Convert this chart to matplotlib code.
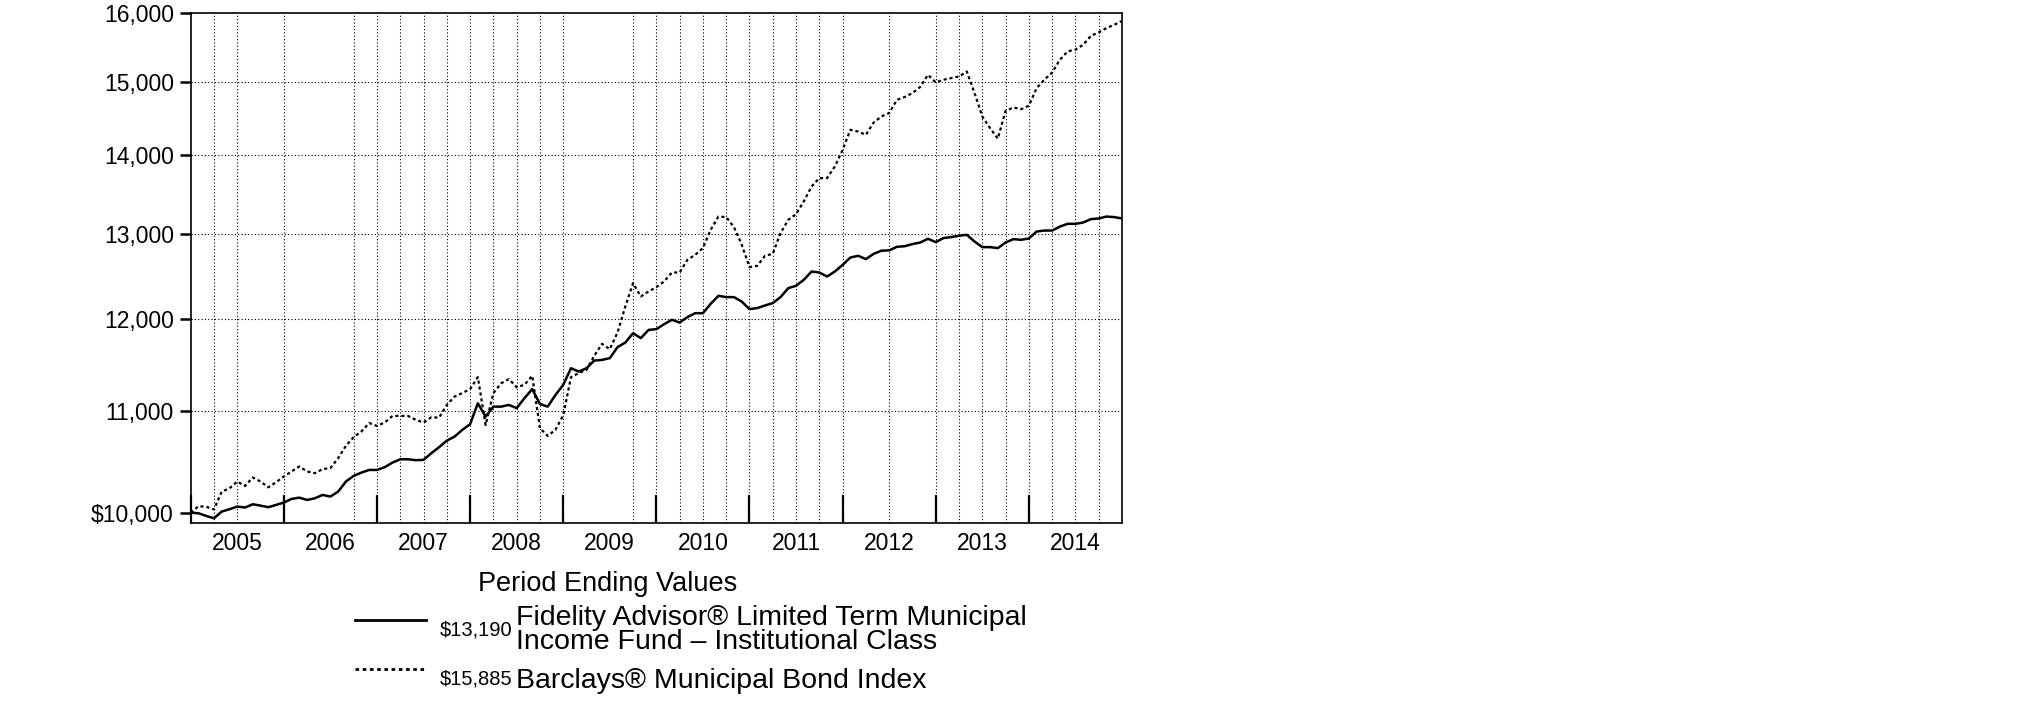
import numpy as np
import matplotlib.pyplot as plt
from matplotlib.lines import Line2D
from matplotlib.ticker import FixedLocator, FixedFormatter, NullLocator

# monthly values, Dec 2004 .. Dec 2014 (hypothetical $10,000 investment)
fund = [10000, 9994, 9969, 9947, 10010, 10032, 10057, 10048, 10079, 10066, 10051, 10073,
        10095, 10130, 10142, 10120, 10136, 10168, 10152, 10200, 10297, 10352, 10384, 10410,
        10410, 10437, 10482, 10515, 10515, 10506, 10509, 10575, 10635, 10701, 10742, 10810,
        10868, 11084, 10946, 11049, 11049, 11067, 11033, 11137, 11233, 11077, 11049, 11171,
        11278, 11456, 11420, 11456, 11539, 11546, 11565, 11686, 11736, 11840, 11785, 11877,
        11885, 11941, 11990, 11959, 12020, 12065, 12065, 12172, 12264, 12249, 12249, 12198,
        12111, 12123, 12153, 12180, 12249, 12353, 12380, 12450, 12548, 12536, 12489, 12548,
        12626, 12714, 12735, 12695, 12758, 12796, 12800, 12843, 12850, 12876, 12895, 12940,
        12900, 12949, 12961, 12977, 12989, 12907, 12839, 12839, 12827, 12895, 12936, 12928,
        12944, 13029, 13041, 13041, 13090, 13124, 13124, 13140, 13182, 13190, 13214, 13207,
        13190]
index = [10000, 10060, 10055, 10030, 10200, 10231, 10297, 10254, 10336, 10297, 10241, 10290,
         10346, 10395, 10444, 10395, 10378, 10418, 10428, 10526, 10649, 10737, 10794, 10880,
         10850, 10885, 10953, 10953, 10953, 10913, 10885, 10939, 10935, 11067, 11154, 11191,
         11233, 11360, 10860, 11191, 11295, 11339, 11253, 11278, 11375, 10827, 10749, 10810,
         10960, 11360, 11403, 11438, 11590, 11722, 11663, 11847, 12141, 12411, 12256, 12314,
         12365, 12430, 12536, 12536, 12686, 12746, 12827, 13050, 13214, 13207, 13083, 12870,
         12600, 12615, 12735, 12758, 13010, 13173, 13244, 13404, 13593, 13701, 13701, 13852,
         14070, 14338, 14315, 14270, 14437, 14519, 14566, 14749, 14788, 14843, 14929, 15100,
         14992, 15030, 15054, 15076, 15147, 14843, 14519, 14361, 14220, 14596, 14643, 14619,
         14667, 14913, 15030, 15133, 15316, 15437, 15462, 15533, 15666, 15714, 15779, 15828,
         15885]

years = list(range(2005, 2015))
y_ticks = [10000, 11000, 12000, 13000, 14000, 15000, 16000]
y_labels = ["$10,000", "11,000", "12,000", "13,000", "14,000", "15,000", "16,000"]
missing_grid = [2005.75, 2006.25, 2006.5, 2009.25, 2009.5, 2012.25, 2012.75]

fund_name = "Fidelity Advisor® Limited Term Municipal\nIncome Fund – Institutional Class"
index_name = "Barclays® Municipal Bond Index"
fund_end = "$13,190"
index_end = "$15,885"

plt.rcParams['font.family'] = ['Liberation Sans', 'DejaVu Sans']

W, H = 2025, 717
fig = plt.figure(figsize=(W / 100, H / 100), dpi=100)
ax = fig.add_axes([190.7 / W, 1 - 523.3 / H, (1122 - 190.7) / W, (523.3 - 13.3) / H])

t = 2005 + np.arange(len(fund)) / 12
ax.plot(t, fund, color="black", lw=1.8, solid_joinstyle="round")
ax.plot(t, index, color="black", lw=1.6, dashes=(1.4, 1.3))

ax.set_yscale("log")
ax.set_ylim(9900, 16000)
ax.set_xlim(2005, 2015)

# grid
for v in y_ticks[1:-1]:
    ax.axhline(v, color="black", lw=0.8, ls=(0, (1, 2)), zorder=0)
for q in np.arange(2005.25, 2015, 0.25):
    if any(abs(q - m) < 1e-6 for m in missing_grid):
        continue
    ax.axvline(q, color="black", lw=0.8, ls=(0, (1, 2)), zorder=0)

ax.yaxis.set_major_locator(FixedLocator(y_ticks))
ax.yaxis.set_major_formatter(FixedFormatter(y_labels))
ax.yaxis.set_minor_locator(NullLocator())
ax.tick_params(axis="y", which="major", direction="out", length=7.7, width=1.8,
               labelsize=16.5, pad=4.5)

ax.xaxis.set_major_locator(FixedLocator(years))
ax.xaxis.set_major_formatter(FixedFormatter([""] * len(years)))
ax.xaxis.set_minor_locator(FixedLocator([y + 0.5 for y in years]))
ax.xaxis.set_minor_formatter(FixedFormatter([str(y) for y in years]))
ax.tick_params(axis="x", which="major", direction="in", length=20, width=1.6)
ax.tick_params(axis="x", which="minor", length=0, labelsize=16.5, pad=6.5)

for s in ax.spines.values():
    s.set_linewidth(1.2)

# legend block
def fx(px):
    return px / W

def fy(py):
    return 1 - py / H

fig.text(fx(608), fy(584), "Period Ending Values", fontsize=19.5, ha="center", va="center")
fig.add_artist(Line2D([fx(355), fx(426)], [fy(620), fy(620)], color="black", lw=2))
fig.add_artist(Line2D([fx(355), fx(426)], [fy(669), fy(669)], color="black", lw=2,
                      dashes=(1.3, 1.3)))
fig.text(fx(440), fy(630), fund_end, fontsize=14.5, ha="left", va="center")
fig.text(fx(516), fy(630), fund_name, fontsize=20.5, ha="left", va="center",
         linespacing=0.92)
fig.text(fx(440), fy(679), index_end, fontsize=14.5, ha="left", va="center")
fig.text(fx(516), fy(681), index_name, fontsize=20.5, ha="left", va="center")

fig.savefig("out.png", dpi=100)
